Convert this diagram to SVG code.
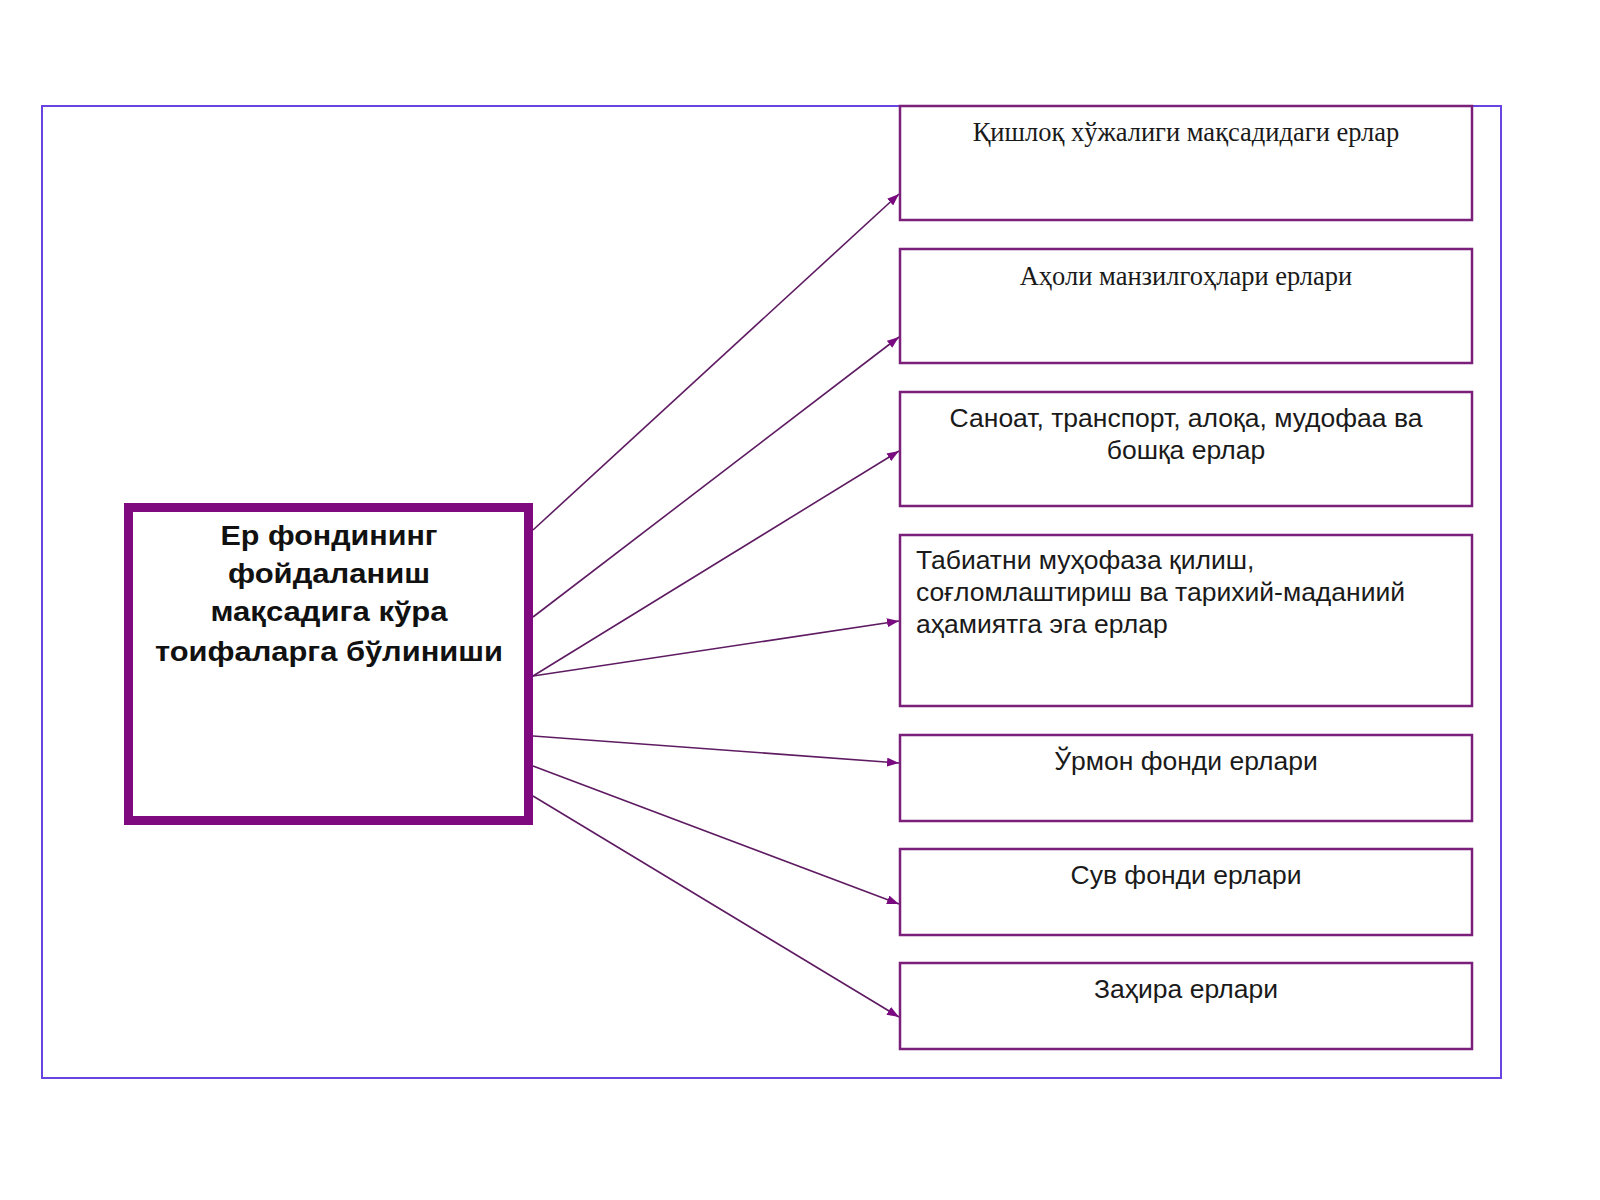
<svg xmlns="http://www.w3.org/2000/svg" width="1600" height="1200" viewBox="0 0 1600 1200">
<defs>
<style>
.frame{fill:none;stroke:#6A44E0;stroke-width:2}
.box{fill:#ffffff;stroke:#7A1F7A;stroke-width:2.5}
.main{fill:#ffffff;stroke:#7F0A80;stroke-width:9}
.conn{stroke:#5E1B62;stroke-width:1.6;fill:none;marker-end:url(#ah)}
.serif{font-family:"Liberation Serif","DejaVu Serif",serif;font-size:26.5px;fill:#1a1a1a}
.sans{font-family:"Liberation Sans","DejaVu Sans",sans-serif;font-size:26.5px;fill:#1a1a1a}
.bold{font-family:"Liberation Sans","DejaVu Sans",sans-serif;font-size:27px;font-weight:bold;fill:#111111}
</style>
<marker id="ah" viewBox="0 0 12 9" refX="12" refY="4.5" markerWidth="12" markerHeight="9" markerUnits="userSpaceOnUse" orient="auto">
<path d="M0,0 L12,4.5 L0,9 z" fill="#7A0A80"/>
</marker>
</defs>
<rect width="1600" height="1200" fill="#ffffff"/>
<rect class="frame" x="42" y="106" width="1459" height="972"/>

<g id="connectors">
<line class="conn" x1="533" y1="530" x2="899" y2="194"/>
<line class="conn" x1="533" y1="617" x2="899" y2="337"/>
<line class="conn" x1="533" y1="676" x2="899" y2="451"/>
<line class="conn" x1="533" y1="676" x2="899" y2="621"/>
<line class="conn" x1="533" y1="736" x2="899" y2="763"/>
<line class="conn" x1="533" y1="766" x2="899" y2="904"/>
<line class="conn" x1="533" y1="796" x2="899" y2="1017"/>
</g>

<g id="main">
<rect class="main" x="128.5" y="507.5" width="400" height="313"/>
<text class="bold" text-anchor="middle" x="329" y="545" textLength="217" lengthAdjust="spacingAndGlyphs">Ер фондининг</text>
<text class="bold" text-anchor="middle" x="329" y="583" textLength="202" lengthAdjust="spacingAndGlyphs">фойдаланиш</text>
<text class="bold" text-anchor="middle" x="329" y="621" textLength="237" lengthAdjust="spacingAndGlyphs">мақсадига кўра</text>
<text class="bold" text-anchor="middle" x="329" y="661" textLength="348" lengthAdjust="spacingAndGlyphs">тоифаларга бўлиниши</text>
</g>

<g id="n1">
<rect class="box" x="900" y="106" width="572" height="114"/>
<text class="serif" text-anchor="middle" x="1186" y="141">Қишлоқ хўжалиги мақсадидаги ерлар</text>
</g>
<g id="n2">
<rect class="box" x="900" y="249" width="572" height="114"/>
<text class="serif" text-anchor="middle" x="1186" y="285">Аҳоли манзилгоҳлари ерлари</text>
</g>
<g id="n3">
<rect class="box" x="900" y="392" width="572" height="114"/>
<text class="sans" text-anchor="middle" x="1186" y="427">Саноат, транспорт, алоқа, мудофаа ва</text>
<text class="sans" text-anchor="middle" x="1186" y="459">бошқа ерлар</text>
</g>
<g id="n4">
<rect class="box" x="900" y="535" width="572" height="171"/>
<text class="sans" x="916" y="569">Табиатни муҳофаза қилиш,</text>
<text class="sans" x="916" y="601">соғломлаштириш ва тарихий-маданиий</text>
<text class="sans" x="916" y="633">аҳамиятга эга ерлар</text>
</g>
<g id="n5">
<rect class="box" x="900" y="735" width="572" height="86"/>
<text class="sans" text-anchor="middle" x="1186" y="770">Ўрмон фонди ерлари</text>
</g>
<g id="n6">
<rect class="box" x="900" y="849" width="572" height="86"/>
<text class="sans" text-anchor="middle" x="1186" y="884">Сув фонди ерлари</text>
</g>
<g id="n7">
<rect class="box" x="900" y="963" width="572" height="86"/>
<text class="sans" text-anchor="middle" x="1186" y="998">Заҳира ерлари</text>
</g>
</svg>
